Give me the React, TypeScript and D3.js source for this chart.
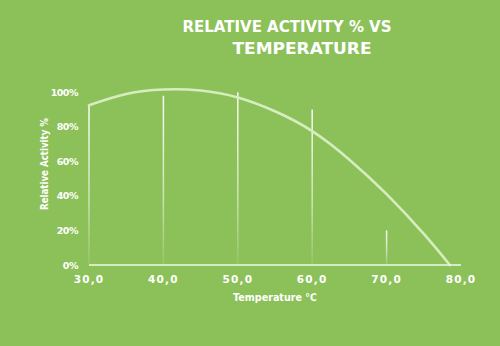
import React from "react";
import * as d3 from "d3";

const curveTemps = [30, 35, 40, 45, 50, 55, 60, 65, 70, 75, 78.5];
const curveActivity = [92.5, 99, 101.6, 101, 97, 89, 77.5, 61, 41, 18, 0];
const dropTemps = [30, 40, 50, 60, 70];
const dropActivity = [92.5, 98, 100, 90, 20];
const xTicks = [30, 40, 50, 60, 70, 80];
const yTicks = [0, 20, 40, 60, 80, 100];

const W = 500;
const H = 346;

export default function App() {
  const x = d3.scaleLinear().domain([30, 80]).range([89, 461]);
  const y = d3.scaleLinear().domain([0, 100]).range([265, 92.3]);
  const pts: [number, number][] = curveTemps.map((t, i) => [t, curveActivity[i]]);
  const line = d3
    .line<[number, number]>()
    .x((d) => x(d[0]))
    .y((d) => y(d[1]))
    .curve(d3.curveNatural);
  const font = "'DejaVu Sans', Verdana, sans-serif";
  return (
    <svg
      width={W}
      height={H}
      style={{ position: "absolute", left: 0, top: 0, display: "block" }}
    >
      <defs>
        <linearGradient id="fade" x1="0" y1="0" x2="0" y2="1">
          <stop offset="0" stopColor="#ffffff" stopOpacity={0.95} />
          <stop offset="0.6" stopColor="#ffffff" stopOpacity={0.55} />
          <stop offset="1" stopColor="#ffffff" stopOpacity={0.08} />
        </linearGradient>
      </defs>
      <rect x={0} y={0} width={W} height={H} fill="#8cc15a" />
      <text
        x={287}
        y={32}
        textAnchor="middle"
        fill="#ffffff"
        fontFamily={font}
        fontWeight="bold"
        fontSize={16.5}
        textLength={209}
        lengthAdjust="spacingAndGlyphs"
      >
        RELATIVE ACTIVITY % VS
      </text>
      <text
        x={302}
        y={54}
        textAnchor="middle"
        fill="#ffffff"
        fontFamily={font}
        fontWeight="bold"
        fontSize={16.5}
        textLength={139}
        lengthAdjust="spacingAndGlyphs"
      >
        TEMPERATURE
      </text>
      {dropTemps.map((t, i) => (
        <rect
          key={t}
          x={x(t) - 0.75}
          y={y(dropActivity[i])}
          width={1.5}
          height={y(0) - y(dropActivity[i])}
          fill="url(#fade)"
        />
      ))}
      <path
        d={line(pts) || ""}
        fill="none"
        stroke="#d6edc0"
        strokeWidth={2.6}
        strokeLinecap="round"
      />
      <line
        x1={x(30)}
        x2={x(80)}
        y1={y(0)}
        y2={y(0)}
        stroke="#eef8e4"
        strokeWidth={1.6}
      />
      {yTicks.map((v) => (
        <text
          key={v}
          x={78}
          y={y(v) + 3.5}
          textAnchor="end"
          fill="#ffffff"
          fontFamily={font}
          fontWeight="bold"
          fontSize={9.5}
          letterSpacing={-0.5}
        >
          {v}%
        </text>
      ))}
      {xTicks.map((v) => (
        <text
          key={v}
          x={x(v)}
          y={283}
          textAnchor="middle"
          fill="#ffffff"
          fontFamily={font}
          fontWeight="bold"
          fontSize={10.5}
          letterSpacing={1.2}
        >
          {v.toFixed(1).replace(".", ",")}
        </text>
      ))}
      <text
        x={275}
        y={301}
        textAnchor="middle"
        fill="#ffffff"
        fontFamily={font}
        fontWeight="bold"
        fontSize={10.5}
        textLength={84}
        lengthAdjust="spacingAndGlyphs"
      >
        Temperature ℃
      </text>
      <text
        transform={`translate(48,164) rotate(-90)`}
        textAnchor="middle"
        fill="#ffffff"
        fontFamily={font}
        fontWeight="bold"
        fontSize={10.5}
        textLength={92}
        lengthAdjust="spacingAndGlyphs"
      >
        Relative Activity %
      </text>
    </svg>
  );
}
